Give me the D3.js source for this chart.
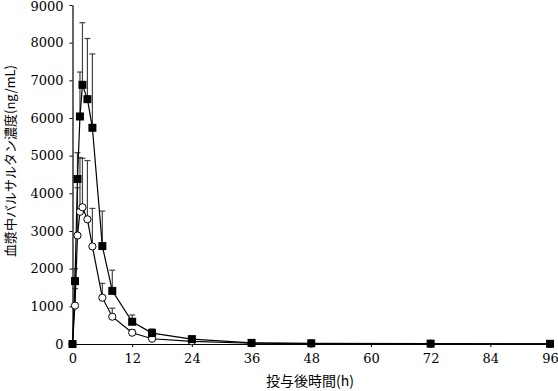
<!DOCTYPE html>
<html><head><meta charset="utf-8">
<script src="https://cdn.jsdelivr.net/npm/d3@7"></script>
<style>body{margin:0;background:#fff;}svg{display:block;}</style>
</head><body>
<svg id="chart" width="558" height="391"></svg>
<script>
const times = [0, 0.5, 1, 1.5, 2, 3, 4, 6, 8, 12, 16, 24, 36, 48, 72, 96];
const highMean = [0, 1670, 4380, 6040, 6880, 6500, 5740, 2600, 1410, 590, 290, 130, 30, 20, 10, 5];
const highSD   = [0, 330, 700, 1180, 1650, 1610, 1960, 930, 550, 180, 110, 40, 10, 5, 3, 2];
const lowMean  = [0, 1020, 2880, 3510, 3630, 3310, 2590, 1230, 725, 300, 140, 70, 20, 10, 5, 3];
const lowSD    = [0, 450, 1270, 1440, 1300, 1560, 1010, 380, 225, 80, 40, 20, 5, 3, 2, 1];
const xTicks = [0, 12, 24, 36, 48, 60, 72, 84, 96];
const yTicks = [0, 1000, 2000, 3000, 4000, 5000, 6000, 7000, 8000, 9000];
const xTitle = "投与後時間(h)";
const yTitle = "血漿中バルサルタン濃度(ng/mL)";

const svg = d3.select("#chart");
const x = d3.scaleLinear().domain([0, 96]).range([72.5, 550]);
const y = d3.scaleLinear().domain([0, 9000]).range([344, 5]);
const numFont = "'DejaVu Serif', 'Liberation Serif', serif";
const cjkFont = "'Noto Sans CJK JP', 'DejaVu Serif', serif";

// axes
const yAxis = svg.append("g").attr("transform", `translate(${x(0)},0)`)
  .call(d3.axisLeft(y).tickValues(yTicks).tickSize(3).tickSizeOuter(0).tickPadding(6).tickFormat(d3.format("d")));
const xAxis = svg.append("g").attr("transform", `translate(0,${y(0)})`)
  .call(d3.axisBottom(x).tickValues(xTicks).tickSize(3).tickSizeOuter(0).tickPadding(7).tickFormat(d3.format("d")));
[xAxis, yAxis].forEach(g => {
  g.selectAll("path.domain").attr("stroke", "#000").attr("stroke-width", 1.2);
  g.selectAll(".tick line").attr("stroke", "#000");
  g.selectAll("text").attr("font-family", numFont).attr("font-size", 13).attr("fill", "#000");
});
yAxis.selectAll(".tick text").filter(d => d === 9000).attr("y", 1.5);

const series = [
  {mean: highMean, sd: highSD, shape: "square"},
  {mean: lowMean, sd: lowSD, shape: "circle"}
];

// error bars (upper only)
series.forEach(s => {
  const g = svg.append("g").attr("stroke", "#444").attr("stroke-width", 1.2);
  times.forEach((t, i) => {
    if (s.sd[i] <= 0) return;
    const cx = x(t), y0 = y(s.mean[i]), y1 = y(s.mean[i] + s.sd[i]);
    g.append("line").attr("x1", cx).attr("x2", cx).attr("y1", y0).attr("y2", y1);
    g.append("line").attr("x1", cx - 3).attr("x2", cx + 3).attr("y1", y1).attr("y2", y1);
  });
});

// lines
const line = d3.line().x((d, i) => x(times[i])).y(d => y(d));
[lowMean, highMean].forEach(m => {
  svg.append("path").datum(m).attr("d", line).attr("fill", "none").attr("stroke", "#000").attr("stroke-width", 1.2);
});

// markers
svg.append("g").selectAll("circle").data(lowMean).join("circle")
  .attr("cx", (d, i) => x(times[i])).attr("cy", d => y(d)).attr("r", 3.6)
  .attr("fill", "#fff").attr("stroke", "#000").attr("stroke-width", 1);
svg.append("g").selectAll("rect").data(highMean).join("rect")
  .attr("x", (d, i) => x(times[i]) - 4).attr("y", d => y(d) - 4)
  .attr("width", 8).attr("height", 8).attr("fill", "#000");

// titles
svg.append("text").attr("x", 310).attr("y", 386).attr("text-anchor", "middle")
  .attr("font-family", cjkFont).attr("font-size", 14).attr("fill", "#000").text(xTitle);
svg.append("text").attr("transform", "translate(15,161) rotate(-90)").attr("text-anchor", "middle")
  .attr("font-family", cjkFont).attr("font-size", 13).attr("fill", "#000").text(yTitle);
</script>
</body></html>
